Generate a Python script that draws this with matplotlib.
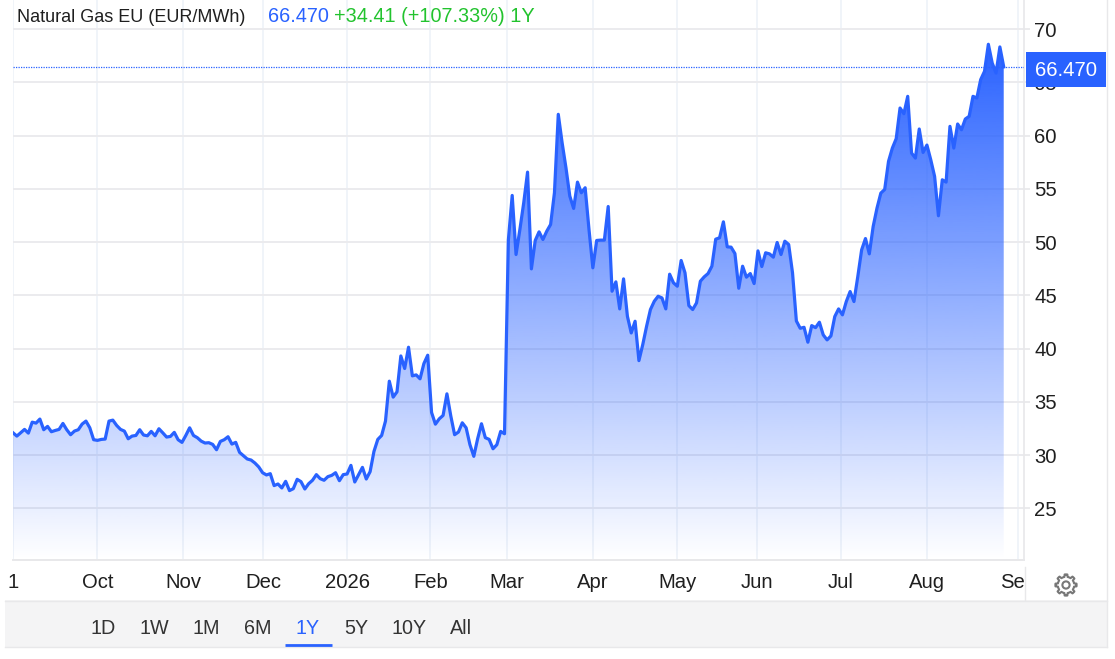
import numpy as np
import matplotlib.pyplot as plt
from matplotlib.patches import Rectangle, Polygon, Circle
from matplotlib.transforms import Bbox

plt.rcParams['font.family'] = ['Liberation Sans', 'DejaVu Sans']

# Daily closes, one trading day per point.
prices_a = [32.09, 31.78, 32.09, 32.41, 32.06, 33.09, 33.0, 33.38, 32.38, 32.69, 32.19, 32.31,
            32.41, 32.97, 32.38, 31.91, 32.25, 32.38, 32.91, 33.19, 32.56, 31.44]
prices_b = [31.38, 31.47, 31.5, 33.19, 33.28, 32.78, 32.41, 32.25, 31.53, 31.78, 31.84, 32.38,
            31.88, 31.81, 32.22, 31.81, 32.47, 32.09, 31.69, 31.75, 32.13, 31.44, 31.19]
prices_c = [31.84, 32.56, 31.84, 31.63, 31.31, 31.13, 31.16, 31.0, 30.5, 31.28, 31.44, 31.72,
            31.03, 31.19, 30.25, 29.94, 29.63, 29.53, 29.25, 28.88]
prices_d = [28.34, 28.13, 28.25, 27.13, 27.28, 26.91, 27.53, 26.66, 26.84, 27.72, 27.5, 26.81,
            27.31, 27.63, 28.16, 27.78, 27.63, 27.97, 28.09, 28.34, 27.59, 28.16, 28.22]
prices_e = [29.03, 27.47, 28.16, 28.84, 27.75, 28.44, 30.34, 31.47, 31.84, 33.19, 36.94, 35.44,
            35.94, 39.31, 38.13, 40.13, 37.44, 37.53, 37.16, 38.59, 39.38]
prices_f = [34.0, 32.9, 33.4, 33.72, 35.75, 33.69, 31.91, 32.16, 33.03, 32.56, 30.97, 29.88,
            31.53, 32.94, 31.63, 31.47, 30.59, 30.97, 32.22, 32.0]
prices_g = [50.2, 54.39, 48.84, 51.19, 53.7, 56.58, 47.49, 50.16, 50.97, 50.25, 51.03, 51.66,
            54.64, 62.01, 59.34, 56.99, 54.33, 53.17, 55.64, 54.64, 55.11, 51.19, 47.59]
prices_h = [50.16, 50.19, 50.19, 53.35, 45.39, 46.27, 43.73, 46.55, 43.04, 41.47, 42.57, 38.87,
            40.38, 42.1, 43.67, 44.45, 44.92, 44.76, 43.73, 46.99, 46.18, 45.86]
prices_i = [48.28, 47.12, 44.04, 43.67, 44.29, 46.33, 46.74, 47.05, 47.74, 50.28, 50.41, 51.91,
            49.56, 49.53, 48.93, 45.67, 47.74, 46.71, 47.05, 46.11, 49.18, 47.71, 49.0, 48.9,
            48.59, 49.97, 48.84, 50.09, 49.78, 47.12, 42.6]
prices_j = [41.91, 42.0, 40.6, 42.16, 41.97, 42.48, 41.29, 40.82, 41.19, 43.01, 43.73, 43.17,
            44.42, 45.36, 44.42, 46.77, 49.28, 50.34, 48.9, 51.47, 53.2, 54.61, 54.95, 57.59,
            58.84, 59.72, 62.6, 62.07, 63.7, 58.37, 57.9, 60.63, 58.43, 59.12, 57.74, 56.18,
            52.48, 55.86, 55.64, 60.88, 58.84, 61.1, 60.56, 61.57, 61.82, 63.7, 63.54, 65.27,
            66.05, 68.59, 66.83, 65.89, 68.34, 66.47]
prices = (prices_a + prices_b + prices_c + prices_d + prices_e + prices_f
          + prices_g + prices_h + prices_i + prices_j)

month_pos = [0, 22, 44.4, 65.1, 87.0, 108.7, 128.6, 151, 173, 193.8, 215.6, 238, 261.7]
month_labels = ['1', 'Oct', 'Nov', 'Dec', '2026', 'Feb', 'Mar', 'Apr', 'May', 'Jun', 'Jul', 'Aug', 'Sep']
y_ticks = [25, 30, 35, 40, 45, 50, 55, 60, 65, 70]
ranges = ['1D', '1W', '1M', '6M', '1Y', '5Y', '10Y', 'All']
range_x = [103, 154, 206, 258, 308, 356, 409, 461]

BLUE = '#2962ff'
GREEN = '#22c32e'
INK = '#1f1f1f'
W, H = 1115, 659
y_low, y_high = 20.14, 72.75

fig = plt.figure(figsize=(W / 100, H / 100), dpi=100)
ax = fig.add_axes([13 / W, 1 - 560 / H, (1024 - 13) / W, 560 / H])

x = np.arange(len(prices))
x_max = (1024 - 13) / 3.84

# Gradient fill under the line, clipped to the area shape.
shape = ax.fill_between(x, prices, y_low, color='none')
rgba = np.zeros((256, 1, 4))
rgba[:, :, :3] = plt.matplotlib.colors.to_rgb(BLUE)
rgba[:, 0, 3] = np.linspace(1, 0, 256)
img = ax.imshow(rgba, extent=(0, x[-1], y_low, max(prices)), aspect='auto', origin='upper', zorder=2)
img.set_clip_path(shape.get_paths()[0], transform=ax.transData)
ax.set_xlim(0, x_max)
ax.set_ylim(y_low, y_high)

ax.plot(x, prices, color=BLUE, lw=2.3, zorder=3, solid_joinstyle='round')
ax.axhline(prices[-1], color=BLUE, lw=0.9, ls=(0, (1, 1)), zorder=4)

ax.set_xticks(month_pos, month_labels)
ax.set_yticks(y_ticks)
ax.yaxis.tick_right()
ax.grid(axis='y', color='#ebebee', lw=1.4, zorder=1)
ax.grid(axis='x', color='#f0f4f9', lw=1.4, zorder=1)
ax.set_axisbelow(True)
for side in ['top', 'left']:
    ax.spines[side].set_visible(False)
ax.spines['right'].set_color('#e8e8ea')
ax.spines['bottom'].set_color('#e8e8ea')
ax.spines['right'].set_linewidth(1.2)
ax.spines['bottom'].set_linewidth(1.4)
ax.tick_params(axis='x', length=0, pad=9, labelsize=14.6, labelcolor=INK)
ax.tick_params(axis='y', length=4.5, width=1.2, color='#e8e8ea', pad=3, labelsize=14.6, labelcolor=INK)

# Sep label is cut off by the price scale in the original.
for lab in ax.get_xticklabels():
    lab.set_clip_on(True)
    lab.set_clip_box(Bbox([[0, 0], [1024, H]]))

# Overlay in pixel coordinates for the page furniture.
top = fig.add_axes([0, 0, 1, 1], zorder=5)
top.set_xlim(0, W)
top.set_ylim(H, 0)
top.axis('off')

top.add_patch(Rectangle((5, 600), 1102, 47, fc='#f4f4f5', ec='none'))
top.plot([5, 1107], [600.5, 600.5], color='#e8e8ea', lw=1)
top.plot([5, 1107], [647, 647], color='#e8e8ea', lw=1)
top.plot([1107, 1107], [0, 647], color='#e8e8ea', lw=1)
top.plot([1025, 1025], [567, 600], color='#e8e8ea', lw=1)
top.add_patch(Rectangle((1026, 52), 80, 35, fc=BLUE, ec='none'))
top.text(1066, 70.5, '66.470', color='white', fontsize=14.6, ha='center', va='center')

top.text(17, 17, 'Natural Gas EU (EUR/MWh)', color=INK, fontsize=13.0, va='center')
top.text(268, 17, '66.470', color=BLUE, fontsize=14.3, va='center')
top.text(334, 17, '+34.41 (+107.33%) 1Y', color=GREEN, fontsize=14.3, va='center')

for name, px in zip(ranges, range_x):
    top.text(px, 628, name, color=BLUE if name == '1Y' else '#333333', fontsize=14.2, ha='center', va='center')
top.plot([285, 332], [645, 645], color=BLUE, lw=2, solid_capstyle='butt')

# Settings gear, outline only.
cx, cy = 1066, 585
ang = np.linspace(0, 2 * np.pi, 97)[:-1]
rad = 8.2 + 2.4 * (np.cos(8 * ang) > 0.1)
top.add_patch(Polygon(np.c_[cx + rad * np.cos(ang), cy + rad * np.sin(ang)], closed=True,
                      fc='none', ec='#777777', lw=1.5, joinstyle='round'))
top.add_patch(Circle((cx, cy), 3.6, fc='none', ec='#777777', lw=1.5))

fig.savefig('out.png', dpi=100)
